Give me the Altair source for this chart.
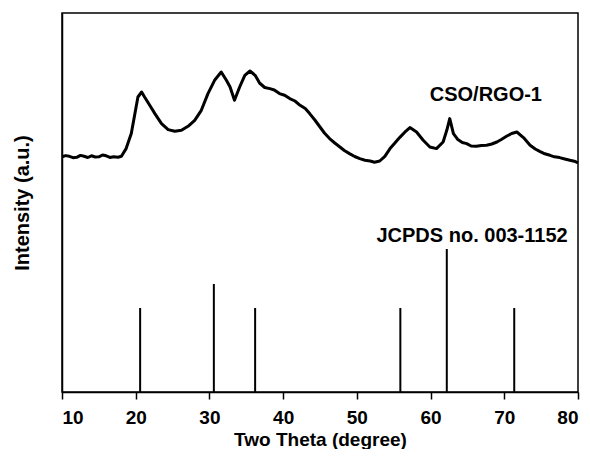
import altair as alt
import pandas as pd

# XRD pattern of CSO/RGO-1 (two theta in degrees, intensity in arbitrary units)
theta = [10.0, 10.5, 11.0, 11.5, 12.0, 12.5, 13.0, 13.5, 14.0, 14.5, 15.0, 15.5, 16.0,
         16.5, 17.0, 17.6, 18.06, 18.7, 19.4, 19.9,
         20.3, 20.8, 21.2, 21.9, 22.6, 23.5, 24.4, 25.3, 26.2, 27.1, 28.0, 28.9, 29.8,
         30.7, 31.6, 32.3, 32.8, 33.4, 34.1, 34.8, 35.5, 36.2, 36.8, 37.5, 38.2, 38.8,
         39.5, 40.2, 40.9, 41.6, 42.3, 43.0, 43.6, 44.3, 45.0, 45.6, 46.3, 47.0, 47.7,
         48.3, 49.0, 49.7, 50.4, 51.1, 51.8, 52.4, 53.1, 53.8, 54.5, 55.1, 55.8, 56.5,
         57.2, 58.1, 59.0, 59.9, 60.8, 61.7, 62.2, 62.6, 63.1, 63.7, 64.3, 64.9, 65.5,
         66.2, 66.9, 67.6, 68.3, 69.0, 69.6, 70.3, 71.0, 71.7, 72.6, 73.5, 74.2, 74.8,
         75.5, 76.2, 76.8, 77.5, 78.2, 78.9, 79.5, 80.0]
intensity = [235.2, 236.4, 235.7, 234.3, 234.7, 236.6, 235.7, 234.5, 236.2, 235.0, 235.2,
             237.0, 236.2, 234.6, 235.2, 234.7, 235.7, 243.4, 258.4, 278.7,
             295.0, 300.0, 295.0, 286.7, 278.4, 268.4, 262.4, 260.7, 261.7,
             265.7, 271.7, 281.7, 298.4, 311.7, 320.0, 311.7, 305.0, 291.7, 305.0, 316.7,
             321.0, 316.7, 309.0, 304.5, 303.4, 302.0, 298.4, 296.8, 293.4, 291.0, 286.7,
             283.5, 278.4, 272.0, 265.0, 259.0, 253.4, 249.0, 245.0, 241.5, 238.4, 235.5,
             233.4, 231.8, 231.0, 229.8, 231.0, 235.7, 243.4, 248.5, 254.4, 259.8, 264.4,
             260.0, 251.7, 245.0, 243.4, 250.0, 261.7, 273.4, 258.4, 252.4, 249.5, 248.4,
             246.0, 245.7, 246.5, 246.7, 248.0, 250.0, 252.5, 255.7, 258.5, 260.0, 254.4,
             246.7, 243.0, 240.7, 238.2, 236.7, 235.2, 234.4, 233.0, 231.7, 230.8, 229.2]

# JCPDS no. 003-1152 reference lines
ref_theta = [20.6, 30.6, 36.2, 55.9, 62.2, 71.35]
ref_height = [84, 108, 84, 84, 143, 84]

# annotations
labels = ["CSO/RGO-1", "JCPDS no. 003-1152"]
label_x = [67.5, 78.6]
label_y = [291, 150]

all_ticks = [10, 15, 20, 25, 30, 35, 40, 45, 50, 55, 60, 65, 70, 75, 80]

FONT = "Liberation Sans"

curve = pd.DataFrame({"theta": theta, "intensity": intensity})
refs = pd.DataFrame({"theta": ref_theta, "h": ref_height, "base": [0] * len(ref_theta)})
ann = pd.DataFrame({"label": labels, "x": label_x, "y": label_y})

xscale = alt.Scale(domain=[10, 80], nice=False, zero=False)
yscale = alt.Scale(domain=[0, 379], nice=False, zero=False)

xaxis = alt.Axis(
    title="Two Theta (degree)",
    values=all_ticks,
    labelExpr="datum.value % 10 === 0 ? datum.label : ''",
    tickSize={"condition": {"test": "datum.value % 10 === 0", "value": 7}, "value": 4},
    tickWidth=1.5,
    tickColor="black",
    domainColor="black",
    domainWidth=1.5,
    labelFont=FONT,
    labelFontSize=19,
    labelFontWeight="bold",
    labelColor="black",
    labelPadding=9,
    titleFont=FONT,
    titleFontSize=19,
    titleFontWeight="bold",
    titleColor="black",
    titlePadding=3,
    grid=False,
)
yaxis = alt.Axis(
    title="Intensity (a.u.)",
    labels=False,
    ticks=False,
    domainColor="black",
    domainWidth=1.5,
    titleFont=FONT,
    titleFontSize=20,
    titleFontWeight="bold",
    titleColor="black",
    titlePadding=30,
    grid=False,
)

line = alt.Chart(curve).mark_line(color="black", strokeWidth=3, strokeJoin="round").encode(
    x=alt.X("theta:Q", scale=xscale, axis=xaxis),
    y=alt.Y("intensity:Q", scale=yscale, axis=yaxis),
)

sticks = alt.Chart(refs).mark_rule(color="black", strokeWidth=2).encode(
    x=alt.X("theta:Q", scale=xscale),
    y=alt.Y("base:Q", scale=yscale),
    y2="h:Q",
)

text1 = alt.Chart(ann.iloc[[0]]).mark_text(
    font=FONT, fontSize=20, fontWeight="bold", color="black", align="center", baseline="alphabetic"
).encode(x=alt.X("x:Q", scale=xscale), y=alt.Y("y:Q", scale=yscale), text="label:N")

text2 = alt.Chart(ann.iloc[[1]]).mark_text(
    font=FONT, fontSize=20, fontWeight="bold", color="black", align="right", baseline="alphabetic"
).encode(x=alt.X("x:Q", scale=xscale), y=alt.Y("y:Q", scale=yscale), text="label:N")

chart = (
    alt.layer(line, sticks, text1, text2)
    .properties(
        width=516,
        height=379,
        autosize=alt.AutoSizeParams(type="none"),
        padding={"left": 54, "top": 5, "right": 2, "bottom": 57},
        background="white",
    )
    .configure_view(stroke="black", strokeWidth=1.5)
)

chart.save("out.html", embed_options={"renderer": "svg", "actions": False})
